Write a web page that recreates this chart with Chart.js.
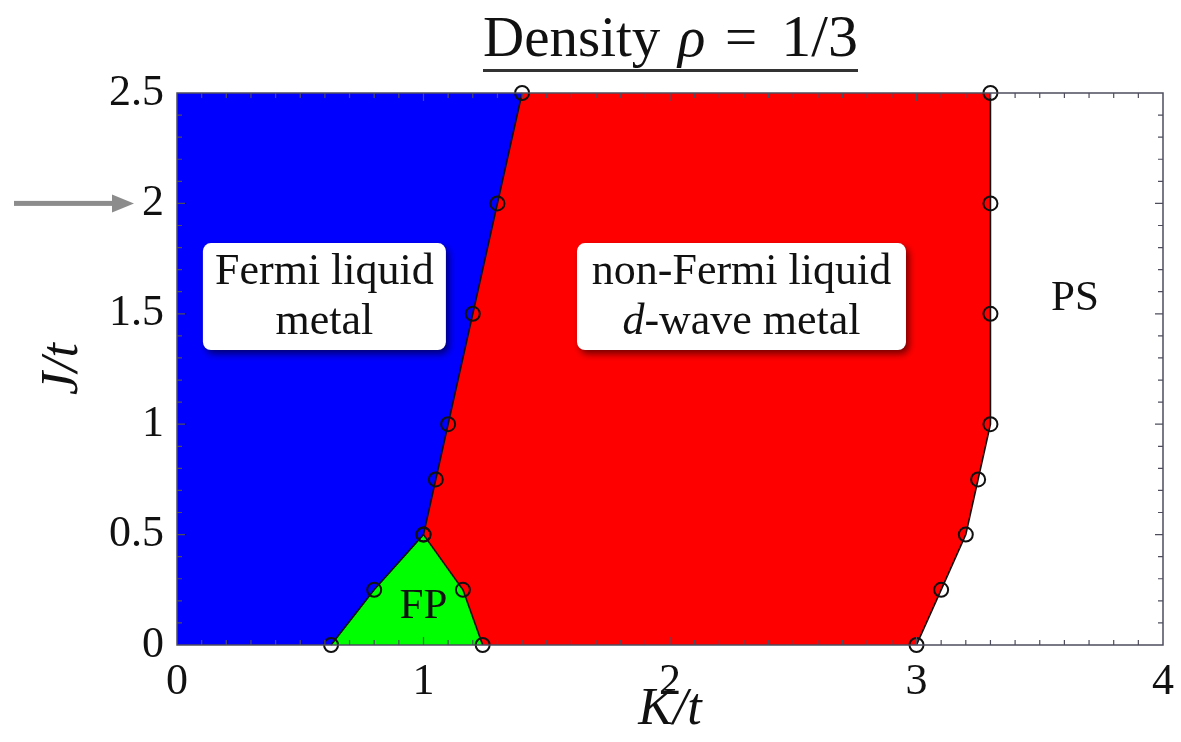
<!DOCTYPE html>
<html>
<head>
<meta charset="utf-8">
<script src="https://cdn.jsdelivr.net/npm/chart.js@4.4.0/dist/chart.umd.min.js"></script>
<style>
  html, body { margin: 0; padding: 0; background: #fff; }
  #wrap { width: 1181px; height: 742px; }
</style>
</head>
<body>
<div id="wrap"><canvas id="phase"></canvas></div>
<script>
// phase diagram at density 1/3 : K/t on x, J/t on y
const jSteps = [0, 0.25, 0.5, 0.75, 1.0, 1.5, 2.0, 2.5];
const kFermiSide = [0.625, 0.8, 1.0, 1.05, 1.1, 1.2, 1.3, 1.4];   // FL/FP | nFL boundary
const jFpRight = [0.5, 0.25, 0];
const kFpRight = [1.0, 1.16, 1.24];                                 // right edge of FP pocket
const kPsSide = [3.0, 3.1, 3.2, 3.25, 3.3, 3.3, 3.3, 3.3];          // nFL | PS boundary
const kRange = [0, 4];
const jRange = [0, 2.5];
const kTicks = [0, 1, 2, 3, 4];
const jTicks = [0, 0.5, 1, 1.5, 2, 2.5];

const SERIF = "'Liberation Serif', 'DejaVu Serif', serif";
const FRAME = '#4d4d5e';

const pts = (ks, js) => ks.map((k, i) => ({ x: k, y: js[i] }));
const leftLine = pts(kFermiSide, jSteps);
const fpLine = pts(kFpRight, jFpRight);
const psLine = pts(kPsSide, jSteps);

// closed regions built from the boundaries
const blueRegion = [{ x: kRange[0], y: jRange[0] }, ...leftLine, { x: kRange[0], y: jRange[1] }, { x: kRange[0], y: jRange[0] }];
const greenRegion = [...leftLine.slice(0, 3), ...fpLine.slice(1), leftLine[0]];
const redRegion = [...fpLine.slice().reverse(), ...leftLine.slice(3), ...psLine.slice().reverse(), fpLine[fpLine.length - 1]];

function region(data, color) {
  return {
    data: data,
    showLine: true,
    fill: 'shape',
    backgroundColor: color,
    borderColor: 'transparent',
    borderWidth: 0,
    pointRadius: 0,
    tension: 0,
    order: 2
  };
}

function boundary(data) {
  return {
    data: data,
    showLine: true,
    fill: false,
    borderColor: '#111',
    borderWidth: 1.6,
    pointRadius: 7,
    pointBorderWidth: 2,
    pointBorderColor: '#111',
    pointBackgroundColor: 'transparent',
    tension: 0,
    clip: false,
    order: 1
  };
}

// frame with inward major/minor ticks on all four sides
const frame = {
  id: 'frame',
  afterDatasetsDraw(chart) {
    const { ctx, chartArea: a, scales: { x, y } } = chart;
    ctx.save();
    ctx.strokeStyle = FRAME;
    ctx.lineWidth = 1.5;
    ctx.strokeRect(a.left, a.top, a.right - a.left, a.bottom - a.top);
    ctx.lineWidth = 1.2;
    ctx.beginPath();
    for (let i = 1; i < 40; i++) {
      const px = x.getPixelForValue(i / 10);
      const len = i % 10 === 0 ? 8 : 5;
      ctx.moveTo(px, a.bottom); ctx.lineTo(px, a.bottom - len);
      ctx.moveTo(px, a.top); ctx.lineTo(px, a.top + len);
    }
    for (let i = 1; i < 25; i++) {
      const py = y.getPixelForValue(i / 10);
      const len = i % 5 === 0 ? 8 : 5;
      ctx.moveTo(a.left, py); ctx.lineTo(a.left + len, py);
      ctx.moveTo(a.right, py); ctx.lineTo(a.right - len, py);
    }
    ctx.stroke();
    ctx.restore();
  }
};

// write runs of [text, italic] centred on cx
function runs(ctx, parts, cx, cy, size) {
  const w = parts.map(p => {
    ctx.font = (p[1] ? 'italic ' : '') + size + 'px ' + SERIF;
    return ctx.measureText(p[0]).width;
  });
  let xx = cx - w.reduce((s, v) => s + v, 0) / 2;
  parts.forEach((p, i) => {
    ctx.font = (p[1] ? 'italic ' : '') + size + 'px ' + SERIF;
    ctx.fillText(p[0], xx, cy);
    xx += w[i];
  });
}

function box(ctx, cx, cy, w, h) {
  ctx.save();
  ctx.shadowColor = 'rgba(0,0,0,0.55)';
  ctx.shadowBlur = 7;
  ctx.shadowOffsetX = 3;
  ctx.shadowOffsetY = 4;
  ctx.fillStyle = '#fff';
  ctx.beginPath();
  ctx.roundRect(cx - w / 2, cy - h / 2, w, h, 8);
  ctx.fill();
  ctx.restore();
}

const notes = {
  id: 'notes',
  afterDraw(chart) {
    const { ctx, scales: { x, y } } = chart;
    ctx.save();
    ctx.textBaseline = 'middle';
    ctx.textAlign = 'left';
    ctx.fillStyle = '#111';

    // phase labels
    let cx = x.getPixelForValue(0.598), cy = y.getPixelForValue(1.578);
    box(ctx, cx, cy, 243, 107);
    ctx.fillStyle = '#111';
    runs(ctx, [['Fermi liquid', false]], cx, cy - 24, 44);
    runs(ctx, [['metal', false]], cx, cy + 26, 44);

    cx = x.getPixelForValue(2.29);
    box(ctx, cx, cy, 329, 107);
    ctx.fillStyle = '#111';
    runs(ctx, [['non-Fermi liquid', false]], cx, cy - 24, 44);
    runs(ctx, [['d', true], ['-wave metal', false]], cx, cy + 26, 44);

    runs(ctx, [['PS', false]], x.getPixelForValue(3.643), y.getPixelForValue(1.569), 43);
    runs(ctx, [['FP', false]], x.getPixelForValue(1.0), y.getPixelForValue(0.172), 43);

    // title with rule underneath
    ctx.textBaseline = 'alphabetic';
    ctx.font = '57px ' + SERIF;
    ctx.fillText('Density', 483, 56);
    ctx.font = 'italic 57px ' + SERIF;
    ctx.fillText('ρ', 678, 56);
    ctx.font = '57px ' + SERIF;
    ctx.textAlign = 'center';
    ctx.fillText('=', 741, 56);
    ctx.textAlign = 'right';
    ctx.font = '60px ' + SERIF;
    ctx.fillText('1/3', 858, 56);
    ctx.fillStyle = '#333';
    ctx.fillRect(483, 69, 375, 3);

    // arrow marking J/t = 2
    const ay = y.getPixelForValue(2);
    ctx.fillStyle = '#8c8c8c';
    ctx.fillRect(14, ay - 2.5, 100, 5);
    ctx.beginPath();
    ctx.moveTo(112, ay - 9);
    ctx.lineTo(134, ay);
    ctx.lineTo(112, ay + 9);
    ctx.closePath();
    ctx.fill();
    ctx.restore();
  }
};

new Chart(document.getElementById('phase'), {
  type: 'scatter',
  data: {
    datasets: [
      region(blueRegion, '#0000ff'),
      region(greenRegion, '#00ff00'),
      region(redRegion, '#ff0000'),
      boundary(leftLine),
      boundary(fpLine),
      boundary(psLine)
    ]
  },
  options: {
    responsive: true,
    maintainAspectRatio: false,
    animation: false,
    devicePixelRatio: 1,
    layout: { padding: { top: 93, right: 18, left: 0, bottom: 0 } },
    plugins: { legend: { display: false }, tooltip: { enabled: false } },
    scales: {
      x: {
        type: 'linear',
        min: kRange[0], max: kRange[1],
        afterBuildTicks: s => { s.ticks = kTicks.map(v => ({ value: v })); },
        afterFit: s => { s.height = 97; },
        grid: { display: false },
        border: { display: false },
        ticks: { color: '#111', font: { family: SERIF, size: 44 }, padding: 3, callback: v => String(v), maxRotation: 0 },
        title: { display: true, text: 'K/t', color: '#111', font: { family: SERIF, size: 52, style: 'italic' }, padding: { top: 0, bottom: 0 } }
      },
      y: {
        type: 'linear',
        min: jRange[0], max: jRange[1],
        afterBuildTicks: s => { s.ticks = jTicks.map(v => ({ value: v })); },
        afterFit: s => { s.width = 177; },
        grid: { display: false },
        border: { display: false },
        ticks: { color: '#111', font: { family: SERIF, size: 44 }, padding: 5, callback: v => String(v) },
        title: { display: true, text: 'J/t', color: '#111', font: { family: SERIF, size: 52, style: 'italic' }, padding: { top: 32, bottom: 0 } }
      }
    }
  },
  plugins: [frame, notes]
});
</script>
</body>
</html>
